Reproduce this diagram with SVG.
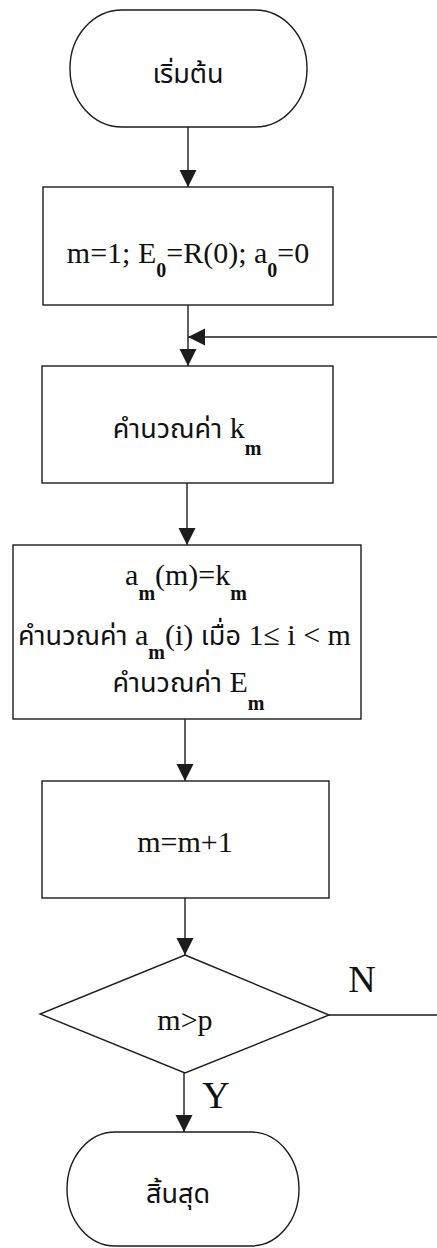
<svg xmlns="http://www.w3.org/2000/svg" width="437" height="1248" viewBox="0 0 437 1248">
<style>
.ln{fill:none;stroke:#1c1c1c;stroke-width:1.4}
.nd{fill:#fff;stroke:#1c1c1c;stroke-width:1.4}
.t{font-family:"Liberation Serif","Times New Roman",serif;font-size:30px;fill:#111}
.th{font-family:"Noto Sans Thai","Noto Serif Thai","Tlwg Typo","Garuda","Loma",sans-serif;font-size:27px}
.sub{font-size:20px;font-weight:bold}
.lbl{font-family:"Liberation Serif","Times New Roman",serif;font-size:38px;fill:#111}
</style>
<defs>
<marker id="ah" markerUnits="userSpaceOnUse" markerWidth="18" markerHeight="18" refX="17" refY="8.5" orient="auto">
<path d="M0,0 L17,8.5 L0,17 z" fill="#1c1c1c"/>
</marker>
</defs>
<rect width="437" height="1248" fill="#fff"/>
<g id="connectors">
<line class="ln" x1="188" y1="127" x2="188" y2="187" marker-end="url(#ah)"/>
<line class="ln" x1="188" y1="305" x2="188" y2="366" marker-end="url(#ah)"/>
<path class="ln" d="M329,1015 H445 V337 H188" marker-end="url(#ah)"/>
<line class="ln" x1="187" y1="483" x2="187" y2="545" marker-end="url(#ah)"/>
<line class="ln" x1="185" y1="719" x2="185" y2="781" marker-end="url(#ah)"/>
<line class="ln" x1="185" y1="898" x2="185" y2="955" marker-end="url(#ah)"/>
<line class="ln" x1="184" y1="1073" x2="184" y2="1132" marker-end="url(#ah)"/>
<text class="lbl" x="362" y="992" text-anchor="middle">N</text>
<text class="lbl" x="216" y="1108" text-anchor="middle">Y</text>
</g>
<g id="start">
<rect class="nd" x="70" y="10" width="237" height="117" rx="52" ry="58"/>
<text class="t th" x="188" y="83" text-anchor="middle">เริ่มต้น</text>
</g>
<g id="init">
<rect class="nd" x="43" y="187" width="290" height="118"/>
<text class="t" x="188" y="263" text-anchor="middle">m=1; E<tspan class="sub" dy="14">0</tspan><tspan dy="-14">=R(0); a</tspan><tspan class="sub" dy="14">0</tspan><tspan dy="-14">=0</tspan></text>
</g>
<g id="calc-k">
<rect class="nd" x="42" y="366" width="291" height="117"/>
<text class="t" x="187" y="438" text-anchor="middle"><tspan class="th">คำนวณค่า</tspan> k<tspan class="sub" dy="17">m</tspan></text>
</g>
<g id="update">
<rect class="nd" x="13" y="545" width="348" height="174"/>
<text class="t" x="186" y="585" text-anchor="middle">a<tspan class="sub" dy="15">m</tspan><tspan dy="-15">(m)=k</tspan><tspan class="sub" dy="15">m</tspan></text>
<text class="t" x="184.5" y="645" text-anchor="middle"><tspan class="th">คำนวณค่า</tspan> a<tspan class="sub" dy="14">m</tspan><tspan dy="-14">(i) </tspan><tspan class="th">เมื่อ</tspan> 1≤ i &lt; m</text>
<text class="t" x="188.5" y="692" text-anchor="middle"><tspan class="th">คำนวณค่า</tspan> E<tspan class="sub" dy="18">m</tspan></text>
</g>
<g id="increment">
<rect class="nd" x="42" y="781" width="287" height="117"/>
<text class="t" x="185" y="852" text-anchor="middle">m=m+1</text>
</g>
<g id="decision">
<polygon class="nd" points="185,955 329,1015 185,1073 40,1014"/>
<text class="t" x="185" y="1030" text-anchor="middle">m&gt;p</text>
</g>
<g id="end">
<rect class="nd" x="67" y="1132" width="232" height="114" rx="48" ry="57"/>
<text class="t th" x="178" y="1203" text-anchor="middle">สิ้นสุด</text>
</g>
</svg>
